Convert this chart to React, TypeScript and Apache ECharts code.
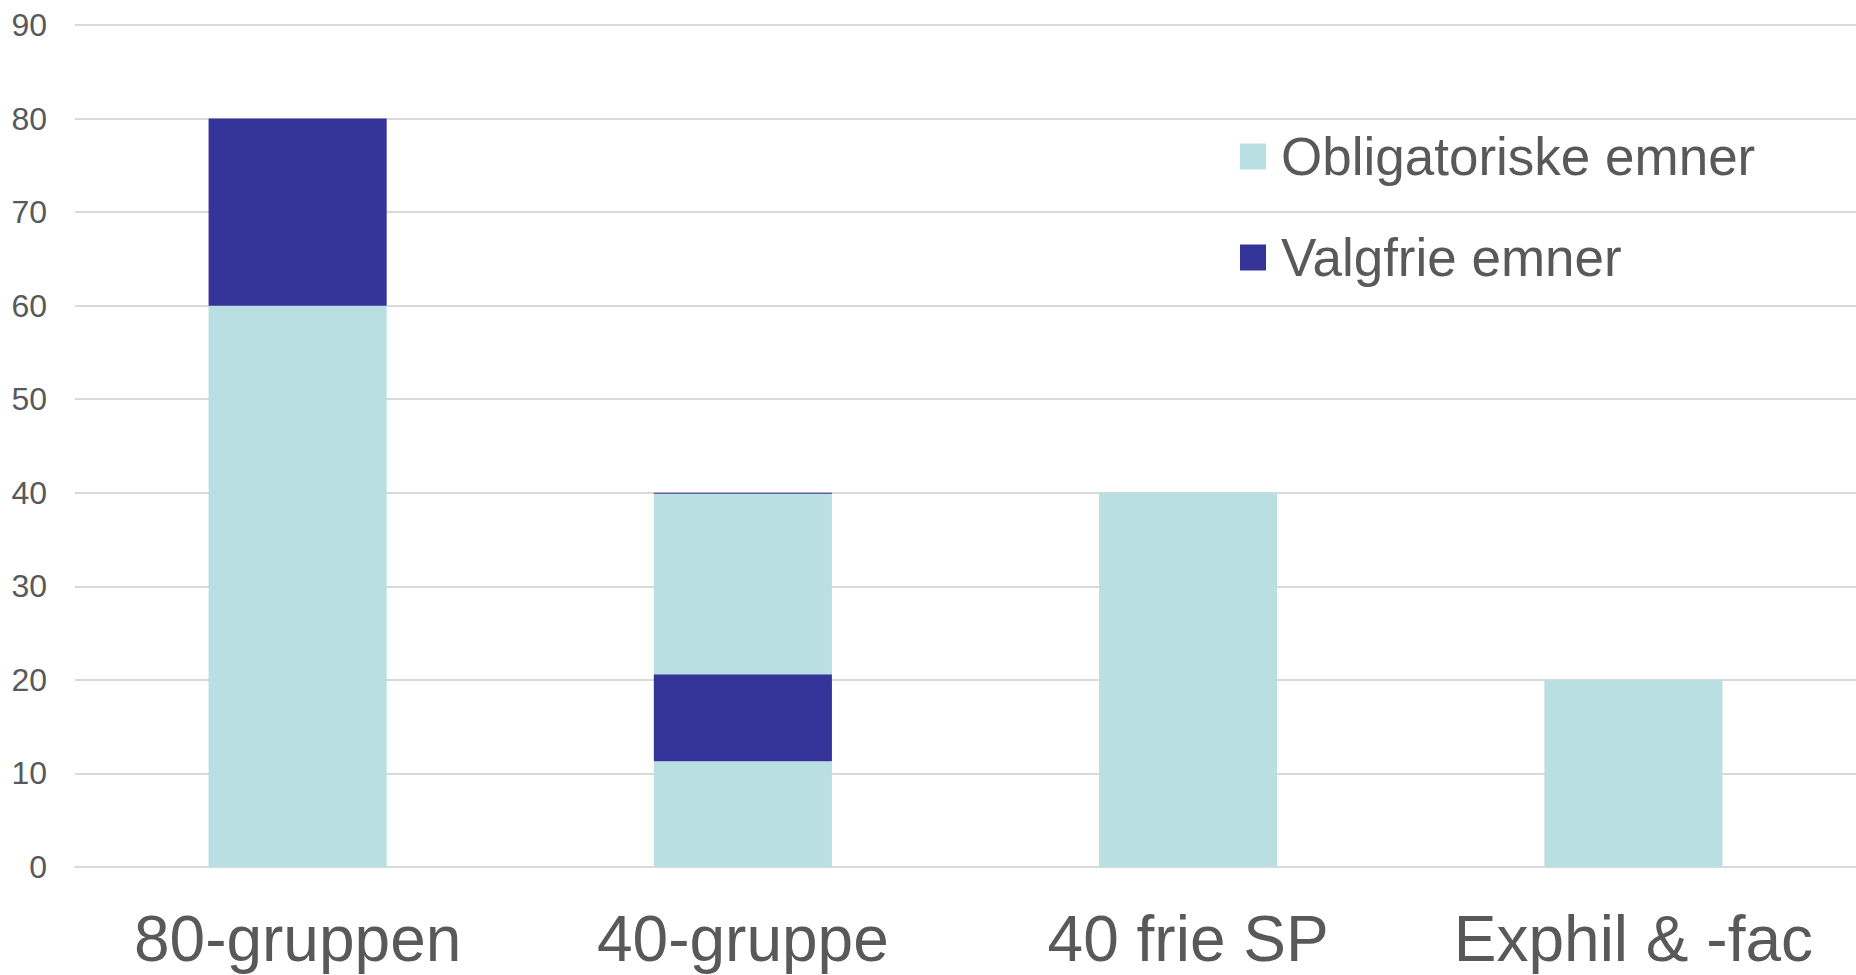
import React, { useEffect, useRef } from "react";
import * as echarts from "echarts";

const categories = ["80-gruppen", "40-gruppe", "40 frie SP", "Exphil & -fac"];
const obligatoriskeLower = [60, 11.3, 40, 20];
const valgfrieLower = [20, 9.3, "-", "-"];
const obligatoriskeUpper = ["-", 19.3, "-", "-"];
const valgfrieUpper = ["-", 0.1, "-", "-"];
const yTicks = { min: 0, max: 90, interval: 10 };
const legendNames = ["Obligatoriske emner", "Valgfrie emner"];

const LIGHT = "#B9DFE2";
const DARK = "#343399";
const TEXT = "#595959";
const FONT = "'Liberation Sans', Arial, sans-serif";

export default function App() {
  const ref = useRef<HTMLDivElement>(null);
  useEffect(() => {
    document.body.style.margin = "0";
    const chart = echarts.init(ref.current!, null, { renderer: "svg" });
    const barCommon = { type: "bar", stack: "total", barWidth: "40%" };
    chart.setOption({
      animation: false,
      backgroundColor: "#ffffff",
      grid: { left: 75, width: 1790, top: 25, bottom: 108, containLabel: false },
      legend: {
        data: legendNames,
        orient: "vertical",
        left: 1235,
        top: 125,
        itemWidth: 26,
        itemHeight: 26,
        itemGap: 48,
        icon: "rect",
        textStyle: { fontSize: 53, color: TEXT, fontFamily: FONT, padding: [0, 0, 0, 10] },
      },
      xAxis: {
        type: "category",
        data: categories,
        axisLine: { show: true, lineStyle: { color: "#D9D9D9", width: 2 } },
        axisTick: { show: false },
        axisLabel: { fontSize: 64, color: TEXT, fontFamily: FONT, margin: 40, interval: 0, hideOverlap: false },
      },
      yAxis: {
        type: "value",
        min: yTicks.min,
        max: yTicks.max,
        interval: yTicks.interval,
        axisLine: { show: false },
        axisTick: { show: false },
        axisLabel: { fontSize: 32, color: TEXT, fontFamily: FONT, margin: 28 },
        splitLine: { lineStyle: { color: "#D9D9D9", width: 2 } },
      },
      series: [
        { ...barCommon, name: legendNames[0], data: obligatoriskeLower, itemStyle: { color: LIGHT } },
        { ...barCommon, name: legendNames[1], data: valgfrieLower, itemStyle: { color: DARK } },
        { ...barCommon, name: legendNames[0], data: obligatoriskeUpper, itemStyle: { color: LIGHT } },
        { ...barCommon, name: legendNames[1], data: valgfrieUpper, itemStyle: { color: DARK } },
      ],
    });
    return () => chart.dispose();
  }, []);
  return <div ref={ref} style={{ width: 1856, height: 975 }} />;
}
